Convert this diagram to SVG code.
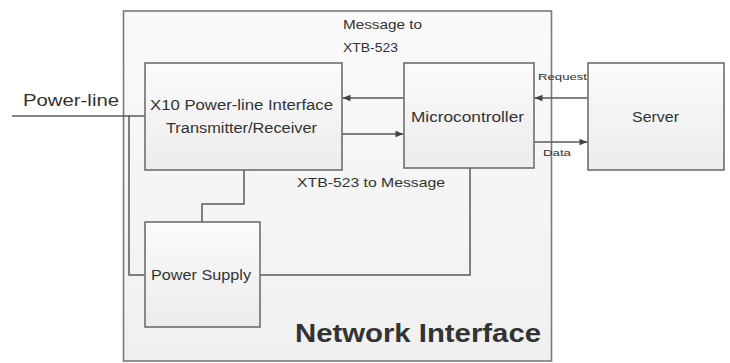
<svg xmlns="http://www.w3.org/2000/svg" width="730" height="363" viewBox="0 0 730 363">
  <defs>
    <linearGradient id="boxFill" x1="0" y1="0" x2="0" y2="1">
      <stop offset="0" stop-color="#fbfbfb"/>
      <stop offset="1" stop-color="#ececec"/>
    </linearGradient>
    <linearGradient id="frameFill" x1="0" y1="0" x2="0" y2="1">
      <stop offset="0" stop-color="#fafafa"/>
      <stop offset="1" stop-color="#f0f0f0"/>
    </linearGradient>
    <marker id="arrow" viewBox="0 0 10 10" refX="10" refY="5" markerWidth="10" markerHeight="8" markerUnits="userSpaceOnUse" orient="auto">
      <path d="M0,1 L10,5 L0,9 z" fill="#444"/>
    </marker>
  </defs>
  <style>
    .box { fill: url(#boxFill); stroke: #6f6f6f; stroke-width: 1.6; }
    .frame { fill: url(#frameFill); stroke: #7a7a7a; stroke-width: 1.6; }
    .wire { fill: none; stroke: #5a5a5a; stroke-width: 1.5; }
    .label { font-family: "Liberation Sans", Arial, sans-serif; fill: #333; }
  </style>

  <rect width="730" height="363" fill="#ffffff"/>

  <!-- enclosing network interface -->
  <g id="network-interface">
    <rect class="frame" x="123.5" y="11" width="428" height="350"/>
    <text class="label" x="295" y="342" font-size="25" font-weight="bold" fill="#1c1c1c" textLength="246" lengthAdjust="spacingAndGlyphs">Network Interface</text>
  </g>

  <!-- connectors -->
  <g id="connectors">
    <!-- power-line feed -->
    <path class="wire" d="M12,116 H145"/>
    <path class="wire" d="M129,116 V275 H145"/>
    <!-- transceiver to power supply -->
    <path class="wire" d="M244,170 V204 H202 V222"/>
    <!-- power supply to microcontroller -->
    <path class="wire" d="M260,275 H470 V168"/>
    <!-- microcontroller <-> transceiver -->
    <path class="wire" d="M404,98 H342.5" marker-end="url(#arrow)"/>
    <path class="wire" d="M342,134 H403.5" marker-end="url(#arrow)"/>
    <!-- server <-> microcontroller -->
    <path class="wire" d="M588,98 H534.5" marker-end="url(#arrow)"/>
    <path class="wire" d="M534,142 H587.5" marker-end="url(#arrow)"/>
    <text class="label" x="343" y="29" font-size="13" textLength="79" lengthAdjust="spacingAndGlyphs">Message to</text>
    <text class="label" x="343" y="52" font-size="13" textLength="55" lengthAdjust="spacingAndGlyphs">XTB-523</text>
    <text class="label" x="297" y="187" font-size="13" textLength="148" lengthAdjust="spacingAndGlyphs">XTB-523 to Message</text>
    <text class="label" x="538" y="80" font-size="9" textLength="49" lengthAdjust="spacingAndGlyphs">Request</text>
    <text class="label" x="543" y="156" font-size="9" textLength="28" lengthAdjust="spacingAndGlyphs">Data</text>
  </g>

  <g id="power-line">
    <text class="label" x="23" y="106" font-size="17" textLength="96" lengthAdjust="spacingAndGlyphs">Power-line</text>
  </g>

  <g id="x10-transceiver">
    <rect class="box" x="145" y="63" width="197" height="107"/>
    <text class="label" x="150" y="110" font-size="14" textLength="183" lengthAdjust="spacingAndGlyphs">X10 Power-line Interface</text>
    <text class="label" x="166" y="133" font-size="14" textLength="151" lengthAdjust="spacingAndGlyphs">Transmitter/Receiver</text>
  </g>

  <g id="microcontroller">
    <rect class="box" x="404" y="63" width="130" height="105"/>
    <text class="label" x="411" y="122" font-size="14" textLength="113" lengthAdjust="spacingAndGlyphs">Microcontroller</text>
  </g>

  <g id="server">
    <rect class="box" x="588" y="63" width="136" height="107"/>
    <text class="label" x="632" y="122" font-size="14" textLength="47" lengthAdjust="spacingAndGlyphs">Server</text>
  </g>

  <g id="power-supply">
    <rect class="box" x="145" y="222" width="115" height="105"/>
    <text class="label" x="151" y="280" font-size="14" textLength="100" lengthAdjust="spacingAndGlyphs">Power Supply</text>
  </g>
</svg>
